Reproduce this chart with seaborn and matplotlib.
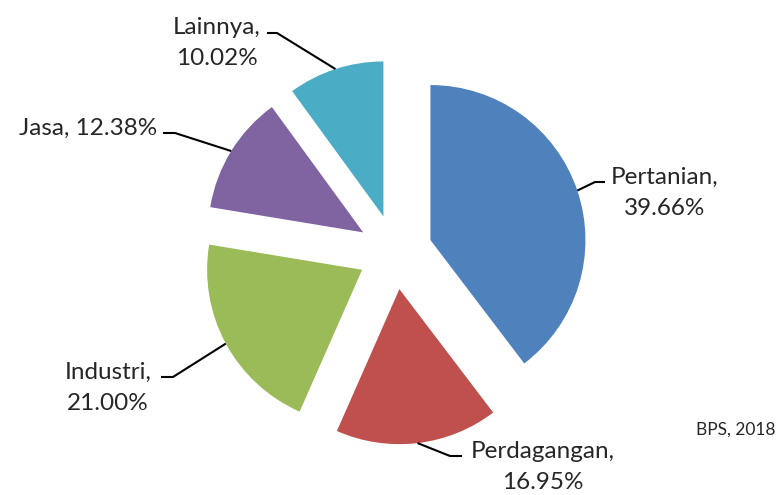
import numpy as np
import matplotlib
matplotlib.use("Agg")
import matplotlib.pyplot as plt
import seaborn as sns

# data
sectors = ["Pertanian", "Perdagangan", "Industri", "Jasa", "Lainnya"]
shares = [39.66, 16.95, 21.00, 12.38, 10.02]
label_sep = ["\n", "\n", "\n", " ", "\n"]
source_note = "BPS, 2018"

# style / layout (figure pixels, y measured from bottom)
W, H = 779, 495
colors = ["#4F81BD", "#C0504D", "#9BBB59", "#8064A2", "#4BACC6"]
pie_center = (395, H - 252)
pie_radius = 155
# matplotlib applies explode in data units, not scaled by radius
explode = [37.4] * len(shares)
# elbow of leader line: knee, end of horizontal stub, text centre (px from top)
knees = [(595, 182), (450, 456), (173, 377), (175, 133), (277, 33)]
stubs = [(605, 182), (462, 456), (161, 377), (163, 133), (267, 33)]
text_pos = [(665, 193), (543, 467), (108, 388), (88, 128), (217, 43)]

sns.set_theme(style="white")
plt.rcParams["font.family"] = ["Lato", "DejaVu Sans"]

fig = plt.figure(figsize=(W / 100, H / 100), dpi=100)
ax = fig.add_axes([0, 0, 1, 1])

wedges, _ = ax.pie(shares, colors=colors, startangle=90, counterclock=False,
                   explode=explode, radius=pie_radius, center=pie_center,
                   wedgeprops=dict(linewidth=0), frame=True)

ax.set_xlim(0, W)
ax.set_ylim(0, H)
ax.set_aspect("equal")
ax.axis("off")

for w, name, val, sep, kn, st, tp in zip(wedges, sectors, shares, label_sep,
                                         knees, stubs, text_pos):
    mid = np.deg2rad((w.theta1 + w.theta2) / 2)
    cx, cy = w.center
    start = (cx + w.r * np.cos(mid), cy + w.r * np.sin(mid))
    xs = [start[0], kn[0], st[0]]
    ys = [start[1], H - kn[1], H - st[1]]
    ax.plot(xs, ys, color="black", lw=1.5, solid_capstyle="butt")
    ax.text(tp[0], H - tp[1], f"{name},{sep}{val:.2f}%", ha="center",
            va="center", multialignment="center", fontsize=17.5,
            linespacing=1.55, color="#262626")

ax.text(776, H - 430, source_note, ha="right", va="center", fontsize=12.5,
        color="#262626")

fig.savefig("out.png", dpi=100)
